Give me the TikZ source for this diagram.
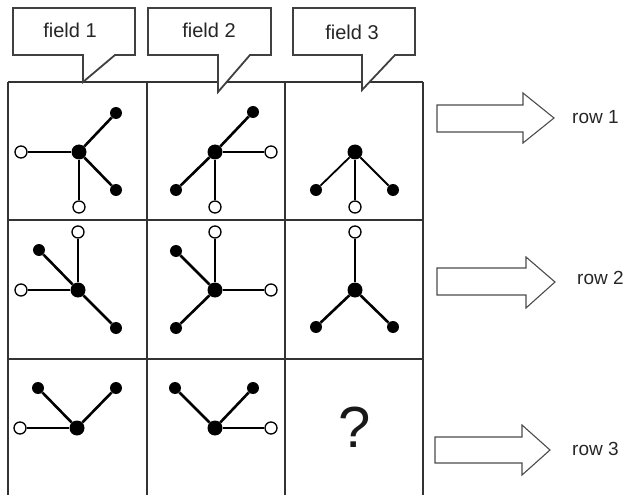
\documentclass[tikz,border=0pt]{standalone}
\usepackage{fontspec}
\setmainfont{Liberation Sans}
\begin{document}
\begin{tikzpicture}[x=1pt,y=-1pt,
  gridline/.style={draw=black!80,line width=1.5pt},
  callout/.style={draw=black!75,line width=1.8pt,fill=white,line join=miter},
  lbl/.style={font=\fontsize{20}{22}\selectfont,text=black!85,inner sep=0pt},
  rowlbl/.style={font=\fontsize{19}{21}\selectfont,text=black!85,inner sep=0pt,anchor=base west},
  hub/.style={circle,fill=black,minimum size=15pt,inner sep=0pt},
  fn/.style={circle,fill=black,minimum size=12pt,inner sep=0pt},
  on/.style={circle,draw=black,fill=white,line width=1.3pt,minimum size=12pt,inner sep=0pt},
  thk/.style={line width=2.6pt,draw=black},
  mid/.style={line width=1.8pt,draw=black},
  thn/.style={line width=1.4pt,draw=black},
  bigarrow/.style={draw=black!70,line width=1.1pt,fill=white,line join=miter}]
\useasboundingbox (0,0) rectangle (633,495);
% grid
\draw[gridline] (8,82) -- (8,495) (147,82) -- (147,495) (285,82) -- (285,495) (423,82) -- (423,495);
\draw[gridline] (8,82) -- (423,82) (8,220) -- (423,220) (8,359) -- (423,359);
% callouts
\draw[callout] (13,8) -- (135,8) -- (135,55) -- (115,55) -- (83,82) -- (83,55) -- (13,55) -- cycle;
\draw[callout] (148,8) -- (271,8) -- (271,55) -- (250,55) -- (218,92) -- (218,55) -- (148,55) -- cycle;
\draw[callout] (293,8) -- (415,8) -- (415,55) -- (395,55) -- (362,90) -- (362,55) -- (293,55) -- cycle;
\node[lbl] (f1) at (70,30) {field 1};
\node[lbl] (f2) at (209,30) {field 2};
\node[lbl] (f3) at (352,32) {field 3};
% row 1 col 1
\node[hub] (h11) at (79,152) {};
\node[fn] (a11) at (116,113) {};
\node[fn] (b11) at (116,190) {};
\node[on] (c11) at (21,152) {};
\node[on] (d11) at (79,207) {};
\draw[thk] (h11) -- (a11); \draw[thk] (h11) -- (b11);
\draw[thn] (h11) -- (c11); \draw[thn] (h11) -- (d11);
% row 1 col 2
\node[hub] (h12) at (215,152) {};
\node[fn] (a12) at (253,112) {};
\node[fn] (b12) at (176,190) {};
\node[on] (c12) at (271,152) {};
\node[on] (d12) at (215,207) {};
\draw[thk] (h12) -- (a12); \draw[thk] (h12) -- (b12);
\draw[thn] (h12) -- (c12); \draw[thn] (h12) -- (d12);
% row 1 col 3
\node[hub] (h13) at (355,152) {};
\node[fn] (a13) at (316,190) {};
\node[fn] (b13) at (393,190) {};
\node[on] (d13) at (355,207) {};
\draw[mid] (h13) -- (a13); \draw[mid] (h13) -- (b13);
\draw[thn] (h13) -- (d13);
% row 2 col 1
\node[hub] (h21) at (78,290) {};
\node[on] (n21) at (78,232) {};
\node[fn] (a21) at (39,250) {};
\node[on] (w21) at (21,290) {};
\node[fn] (b21) at (116,328) {};
\draw[thk] (h21) -- (a21); \draw[thk] (h21) -- (b21);
\draw[thn] (h21) -- (n21); \draw[thn] (h21) -- (w21);
% row 2 col 2
\node[hub] (h22) at (215,290) {};
\node[on] (n22) at (215,232) {};
\node[fn] (a22) at (176,251) {};
\node[on] (e22) at (271,290) {};
\node[fn] (b22) at (176,328) {};
\draw[thk] (h22) -- (a22); \draw[thk] (h22) -- (b22);
\draw[thn] (h22) -- (n22); \draw[thn] (h22) -- (e22);
% row 2 col 3
\node[hub] (h23) at (355,290) {};
\node[on] (n23) at (355,232) {};
\node[fn] (a23) at (316,327) {};
\node[fn] (b23) at (393,327) {};
\draw[thk] (h23) -- (a23); \draw[thk] (h23) -- (b23);
\draw[thk] (h23) -- (n23);
% row 3 col 1
\node[hub] (h31) at (77,428) {};
\node[fn] (a31) at (38,388) {};
\node[fn] (b31) at (116,388) {};
\node[on] (w31) at (20,428) {};
\draw[thk] (h31) -- (a31); \draw[thk] (h31) -- (b31);
\draw[thn] (h31) -- (w31);
% row 3 col 2
\node[hub] (h32) at (215,428) {};
\node[fn] (a32) at (175,388) {};
\node[fn] (b32) at (253,388) {};
\node[on] (e32) at (271,428) {};
\draw[thk] (h32) -- (a32); \draw[thk] (h32) -- (b32);
\draw[thn] (h32) -- (e32);
% row 3 col 3
\node[font=\fontsize{58}{62}\selectfont,inner sep=0pt,text=black!90] (q) at (355,427) {?};
% arrows
\draw[bigarrow] (437,105) -- (523,105) -- (523,93) -- (554,118) -- (523,143) -- (523,132) -- (437,132) -- cycle;
\draw[bigarrow] (437,268) -- (526,268) -- (526,257) -- (555,282) -- (526,308) -- (526,295) -- (437,295) -- cycle;
\draw[bigarrow] (435,437) -- (522,437) -- (522,425) -- (550,450) -- (522,475) -- (522,463) -- (435,463) -- cycle;
\node[rowlbl] (r1) at (572,124) {row 1};
\node[rowlbl] (r2) at (577,284) {row 2};
\node[rowlbl] (r3) at (572,455) {row 3};
\end{tikzpicture}
\end{document}
